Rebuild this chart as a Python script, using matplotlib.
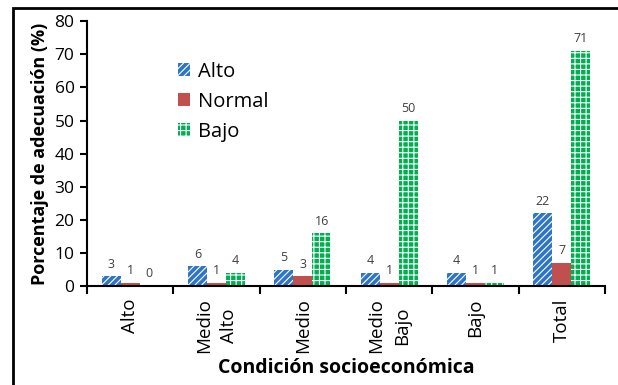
import numpy as np
import matplotlib.pyplot as plt
from matplotlib.patches import Rectangle

plt.rcParams['font.family'] = ['Open Sans', 'DejaVu Sans']
plt.rcParams['hatch.linewidth'] = 0.8

# Datos: porcentaje de adecuación por condición socioeconómica
categorias = ["Alto", "Medio\nAlto", "Medio", "Medio\nBajo", "Bajo", "Total"]
alto = [3, 6, 5, 4, 4, 22]
normal = [1, 1, 3, 1, 1, 7]
bajo = [0, 4, 16, 50, 1, 71]

series = [("Alto", alto, "#2E75C6", "/////"),
          ("Normal", normal, "#C0504D", None),
          ("Bajo", bajo, "#00B050", "+++")]

fig = plt.figure(figsize=(6.18, 3.85), dpi=100)
ax = fig.add_axes([0.1408, 0.257, 0.838, 0.688])

x = np.arange(len(categorias)) + 0.5
ancho = 0.22
for k, (nombre, vals, color, hatch) in enumerate(series):
    pos = x + (k - 1) * ancho
    if hatch:
        bars = ax.bar(pos, vals, ancho, color=color, edgecolor="white",
                      linewidth=0, hatch=hatch, label=nombre)
    else:
        bars = ax.bar(pos, vals, ancho, color=color, linewidth=0, label=nombre)
    for p, v in zip(pos, vals):
        ax.annotate(str(v), (p, v), xytext=(0, 4), textcoords="offset points",
                    ha="center", va="bottom", fontsize=9, color="#404040")

ax.set_xlim(0, len(categorias))
ax.set_ylim(0, 80)
ax.set_yticks(range(0, 81, 10))
ax.tick_params(axis="y", labelsize=12.5, length=5, width=1.5, direction="out",
               pad=4)

ax.set_xticks(np.arange(len(categorias) + 1))
ax.set_xticklabels([])
ax.tick_params(axis="x", which="major", length=6, width=1.5, direction="out")
ax.set_xticks(x, minor=True)
ax.set_xticklabels(categorias, minor=True, rotation=90, fontsize=13.5,
                   ha="center", va="top", multialignment="center",
                   linespacing=1.55)
ax.tick_params(axis="x", which="minor", length=0, pad=9)

for s in ("top", "right"):
    ax.spines[s].set_visible(False)
for s in ("left", "bottom"):
    ax.spines[s].set_linewidth(1.5)

ax.set_ylabel("Porcentaje de adecuación (%)", fontsize=13, fontweight="bold",
              labelpad=4)
ax.set_xlabel("Condición socioeconómica", fontsize=14, fontweight="bold",
              labelpad=3)

ax.legend(loc="upper left", bbox_to_anchor=(0.14, 0.915), frameon=False,
          fontsize=14.5, handlelength=0.6, handleheight=0.6, labelspacing=0.5,
          handletextpad=0.4)

# marco exterior
fig.patches.append(Rectangle((13 / 618, -0.1), 1.2, 1.1 - 8 / 385,
                             transform=fig.transFigure, fill=False,
                             edgecolor="black", linewidth=2))

fig.savefig("out.png", dpi=100)
